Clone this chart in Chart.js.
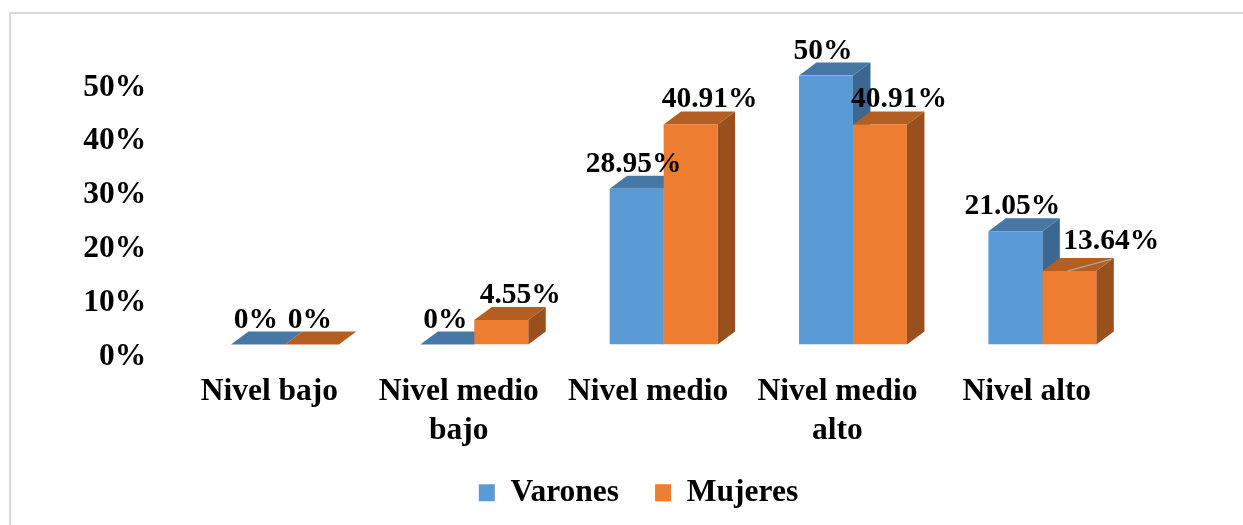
<!DOCTYPE html>
<html>
<head>
<meta charset="utf-8">
<script src="https://cdn.jsdelivr.net/npm/chart.js@4"></script>
<style>
html,body{margin:0;padding:0;background:#fff;overflow:hidden;width:1243px;height:525px;}
#frame{position:absolute;left:9px;top:12px;width:1400px;height:700px;border:2px solid #D9D9D9;box-sizing:border-box;}
#c{position:absolute;left:0;top:0;}
</style>
</head>
<body>
<div id="frame"></div>
<canvas id="c" width="1243" height="525"></canvas>
<script>
// ---- data ----
const categories = ['Nivel bajo', ['Nivel medio', 'bajo'], 'Nivel medio', ['Nivel medio', 'alto'], 'Nivel alto'];
const seriesNames = ['Varones', 'Mujeres'];
const varones = [0, 0, 28.95, 50, 21.05];
const mujeres = [0, 4.55, 40.91, 40.91, 13.64];
const yTicks = [0, 10, 20, 30, 40, 50];

// ---- style ----
const FONT = "'Liberation Serif', 'Times New Roman', serif";
const frontColors = ['#5B9BD5', '#ED7D31'];
const faceColors = [
  { top: '#4677A5', side: '#3B6791' },
  { top: '#B55E22', side: '#994F1E' }
];
const DX = 17.5, DY = 13;

const bar3d = {
  id: 'bar3d',
  beforeDatasetsDraw(chart) {
    const ctx = chart.ctx;
    chart.data.datasets.forEach((ds, di) => {
      const meta = chart.getDatasetMeta(di);
      meta.data.forEach(el => {
        const { x, y, base, width } = el.getProps(['x', 'y', 'base', 'width'], true);
        const xl = x - width / 2, xr = x + width / 2;
        ctx.save();
        if (base - y > 0.5) {
          ctx.fillStyle = faceColors[di].side;
          ctx.beginPath();
          ctx.moveTo(xr, y);
          ctx.lineTo(xr + DX, y - DY);
          ctx.lineTo(xr + DX, base - DY);
          ctx.lineTo(xr, base);
          ctx.closePath();
          ctx.fill();
        }
        ctx.fillStyle = faceColors[di].top;
        ctx.beginPath();
        ctx.moveTo(xl, y);
        ctx.lineTo(xl + DX, y - DY);
        ctx.lineTo(xr + DX, y - DY);
        ctx.lineTo(xr, y);
        ctx.closePath();
        ctx.fill();
        ctx.restore();
      });
    });
  },
  afterDatasetsDraw(chart, args, opts) {
    const ctx = chart.ctx;
    ctx.save();
    ctx.font = 'bold ' + opts.fontSize + 'px ' + FONT;
    ctx.fillStyle = '#000';
    ctx.textAlign = 'center';
    ctx.textBaseline = 'alphabetic';
    chart.data.datasets.forEach((ds, di) => {
      const meta = chart.getDatasetMeta(di);
      meta.data.forEach((el, i) => {
        const v = ds.data[i];
        const { x, y } = el.getProps(['x', 'y'], true);
        let lx = x + (v === 0 ? opts.zeroShift : opts.shift[di]);
        let ly = y - DY - 4;
        const co = opts.callouts.find(c => c.dataset === di && c.index === i);
        if (co) {
          lx = x + co.dx;
          ly = ly + co.dy;
          ctx.save();
          ctx.strokeStyle = '#A6A6A6';
          ctx.lineWidth = 1.5;
          ctx.beginPath();
          ctx.moveTo(x - 2, y);
          ctx.lineTo(lx, ly + 10);
          ctx.stroke();
          ctx.restore();
        }
        ctx.fillText(v + '%', lx, ly);
      });
    });
    ctx.restore();
  }
};

function noLabelClip(scale) { scale._computeLabelArea = () => undefined; }

new Chart(document.getElementById('c'), {
  type: 'bar',
  data: {
    labels: categories,
    datasets: [
      { label: seriesNames[0], data: varones, backgroundColor: frontColors[0], borderWidth: 0 },
      { label: seriesNames[1], data: mujeres, backgroundColor: frontColors[1], borderWidth: 0 }
    ]
  },
  options: {
    responsive: false,
    animation: false,
    devicePixelRatio: 1,
    layout: { padding: { left: 140, right: 106, top: 75.5, bottom: 6.5 } },
    datasets: { bar: { categoryPercentage: 0.57, barPercentage: 1 } },
    scales: {
      x: {
        grid: { display: false, drawTicks: false },
        border: { display: false },
        ticks: {
          color: '#000',
          font: { family: FONT, size: 31.5, weight: 'bold', lineHeight: 1.24 },
          padding: 28,
          labelOffset: -15.5,
          maxRotation: 0, minRotation: 0, autoSkip: false
        },
        afterFit(scale) { scale.height = 96.5; noLabelClip(scale); }
      },
      y: {
        min: 0, max: 50,
        grid: { display: false, drawTicks: false },
        border: { display: false },
        afterBuildTicks(scale) { scale.ticks = yTicks.map(v => ({ value: v })); },
        ticks: {
          color: '#000',
          font: { family: FONT, size: 31.5, weight: 'bold' },
          padding: 44,
          labelOffset: 12,
          callback: v => v + '%'
        },
        afterFit(scale) { scale.width = 50.25; noLabelClip(scale); }
      }
    },
    plugins: {
      legend: {
        position: 'bottom',
        labels: {
          color: '#000',
          font: { family: FONT, size: 31.5, weight: 'bold' },
          boxWidth: 16, boxHeight: 17, padding: 36
        }
      },
      tooltip: { enabled: false },
      bar3d: {
        fontSize: 29.5,
        shift: [-3, 19],
        zeroShift: -2,
        callouts: [{ dataset: 1, index: 4, dx: 42, dy: -5 }]
      }
    }
  },
  plugins: [bar3d]
});
</script>
</body>
</html>
